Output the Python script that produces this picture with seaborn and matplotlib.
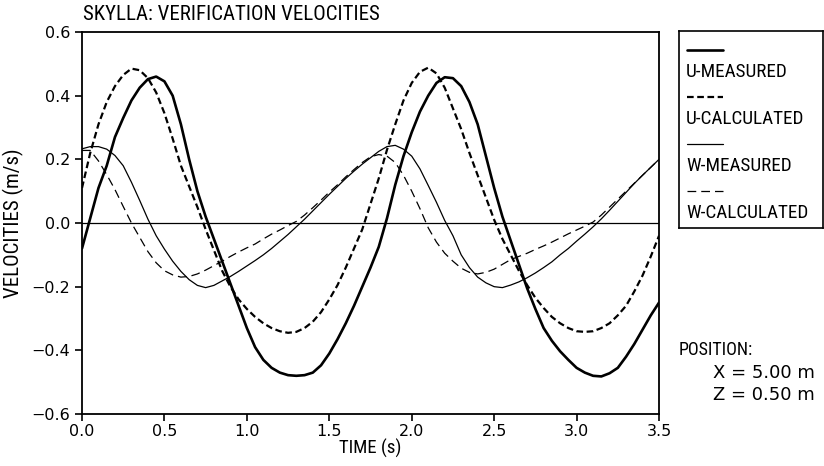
import numpy as np
import pandas as pd
import seaborn as sns
import matplotlib
import matplotlib.pyplot as plt
from matplotlib import font_manager

matplotlib.use("Agg")

# time axis (s), one reading every 0.05 s
time = np.round(np.arange(71) * 0.05, 2)

# velocities (m/s)
u_measured = [
    -0.08, 0.015, 0.11, 0.18, 0.27, 0.33, 0.385, 0.425, 0.452, 0.46,
    0.445, 0.40, 0.31, 0.20, 0.10, 0.02, -0.05, -0.12, -0.19, -0.26,
    -0.33, -0.39, -0.43, -0.455, -0.47, -0.478, -0.48, -0.478, -0.47, -0.447,
    -0.41, -0.365, -0.315, -0.26, -0.20, -0.14, -0.075, 0.015, 0.12, 0.21,
    0.285, 0.35, 0.40, 0.44, 0.458, 0.455, 0.43, 0.38, 0.31, 0.21,
    0.11, 0.02, -0.055, -0.13, -0.205, -0.27, -0.33, -0.37, -0.403, -0.43,
    -0.455, -0.47, -0.48, -0.482, -0.472, -0.455, -0.42, -0.38, -0.335, -0.29,
    -0.25,
]
u_calculated = [
    0.11, 0.22, 0.31, 0.38, 0.43, 0.465, 0.485, 0.48, 0.455, 0.41,
    0.345, 0.265, 0.18, 0.115, 0.05, -0.02, -0.085, -0.15, -0.20, -0.24,
    -0.27, -0.295, -0.315, -0.33, -0.34, -0.345, -0.342, -0.33, -0.31, -0.28,
    -0.24, -0.195, -0.14, -0.08, -0.02, 0.06, 0.14, 0.23, 0.31, 0.385,
    0.44, 0.475, 0.488, 0.47, 0.425, 0.36, 0.295, 0.22, 0.15, 0.08,
    0.01, -0.05, -0.10, -0.15, -0.195, -0.235, -0.267, -0.295, -0.315, -0.33,
    -0.34, -0.342, -0.34, -0.33, -0.315, -0.29, -0.26, -0.215, -0.165, -0.105,
    -0.04,
]
w_measured = [
    0.233, 0.24, 0.24, 0.232, 0.212, 0.18, 0.128, 0.071, 0.012, -0.04,
    -0.082, -0.12, -0.152, -0.178, -0.196, -0.203, -0.196, -0.182, -0.168, -0.152,
    -0.135, -0.118, -0.10, -0.08, -0.058, -0.036, -0.012, 0.012, 0.038, 0.064,
    0.09, 0.115, 0.14, 0.163, 0.185, 0.205, 0.225, 0.24, 0.244, 0.232,
    0.21, 0.17, 0.118, 0.065, 0.008, -0.04, -0.10, -0.14, -0.17, -0.188,
    -0.20, -0.203, -0.195, -0.185, -0.172, -0.157, -0.14, -0.122, -0.10, -0.08,
    -0.057, -0.035, -0.012, 0.013, 0.04, 0.068, 0.096, 0.124, 0.15, 0.175,
    0.2,
]
w_calculated = [
    0.228, 0.228, 0.195, 0.152, 0.105, 0.052, 0.0, -0.045, -0.09, -0.125,
    -0.15, -0.163, -0.17, -0.168, -0.16, -0.148, -0.134, -0.12, -0.105, -0.091,
    -0.078, -0.066, -0.05, -0.035, -0.022, -0.008, 0.005, 0.025, 0.048, 0.072,
    0.097, 0.12, 0.145, 0.168, 0.19, 0.208, 0.215, 0.21, 0.19, 0.15,
    0.10, 0.045, -0.015, -0.06, -0.095, -0.12, -0.142, -0.155, -0.16, -0.155,
    -0.145, -0.13, -0.115, -0.105, -0.095, -0.083, -0.072, -0.06, -0.047, -0.034,
    -0.022, -0.01, 0.003, 0.025, 0.05, 0.075, 0.1, 0.125, 0.15, 0.175,
    0.2,
]

series_names = ["U-MEASURED", "U-CALCULATED", "W-MEASURED", "W-CALCULATED"]
x_ticks = [0.0, 0.5, 1.0, 1.5, 2.0, 2.5, 3.0, 3.5]
y_ticks = [-0.6, -0.4, -0.2, 0.0, 0.2, 0.4, 0.6]

# line look for each series: (linewidth, dash pattern)
styles = {
    "U-MEASURED": (1.9, None),
    "U-CALCULATED": (1.6, (3, 1.6)),
    "W-MEASURED": (0.9, None),
    "W-CALCULATED": (0.9, (7, 4)),
}

sns.set_style("ticks")
# pick a narrow face for the plotter lettering
installed = {f.name for f in font_manager.fontManager.ttflist}
narrow = "DejaVu Sans"
for cand in ["Roboto Condensed", "Liberation Sans Narrow", "DejaVu Sans Condensed",
             "Liberation Sans"]:
    if cand in installed:
        narrow = cand
        break
plt.rcParams["font.family"] = ["DejaVu Sans"]
plt.rcParams["text.color"] = "black"
plt.rcParams["axes.labelcolor"] = "black"
plt.rcParams["xtick.color"] = "black"
plt.rcParams["ytick.color"] = "black"

df = pd.DataFrame({"time": time})
for name, vals in zip(series_names, [u_measured, u_calculated, w_measured, w_calculated]):
    df[name] = vals
long = df.melt(id_vars="time", var_name="series", value_name="velocity")

fig = plt.figure(figsize=(8.24, 4.66), dpi=100)
ax = fig.add_axes([0.0995, 0.1116, 0.7003, 0.8197])

ax.axhline(0, color="black", linewidth=0.9)
for name in series_names:
    lw, dash = styles[name]
    sub = long[long["series"] == name]
    sns.lineplot(data=sub, x="time", y="velocity", ax=ax, color="black", linewidth=lw)
    if dash is not None:
        ax.lines[-1].set_dashes(dash)

ax.set_xlim(0, 3.5)
ax.set_ylim(-0.6, 0.6)
ax.set_xticks(x_ticks)
ax.set_yticks(y_ticks)
ax.set_xticklabels([f"{v:.1f}" for v in x_ticks])
ax.set_yticklabels([f"{v:.1f}".replace("-", "\u2212") for v in y_ticks])
ax.tick_params(direction="out", length=5, width=1.2, labelsize=11.5, colors="black")
ax.tick_params(axis="x", pad=2)
for s in ax.spines.values():
    s.set_linewidth(1.3)
    s.set_color("black")
ax.set_xlabel("TIME (s)", fontfamily=narrow, fontsize=13.5, labelpad=0)
ax.set_ylabel("VELOCITIES (m/s)", fontfamily=narrow, fontsize=15, labelpad=5)

fig.text(0.1007, 0.968, "SKYLLA: VERIFICATION VELOCITIES", fontfamily=narrow,
         fontsize=15, va="center", ha="left")

# legend box: sample line above each label
lax = fig.add_axes([0.824, 0.5107, 0.1748, 0.4227])
lax.set_xlim(0, 1)
lax.set_ylim(0, 1)
lax.set_xticks([])
lax.set_yticks([])
for s in lax.spines.values():
    s.set_linewidth(1.2)
    s.set_color("black")
for i, name in enumerate(series_names):
    lw, dash = styles[name]
    y = 0.904 - i * 0.2386
    ln, = lax.plot([0.056, 0.306], [y, y], color="black", linewidth=lw)
    if dash is not None:
        ln.set_dashes(dash)
    lax.text(0.05, y - 0.112, name, fontfamily=narrow, fontsize=13.8,
             va="center", ha="left")

fig.text(0.824, 0.249, "POSITION:", fontfamily=narrow, fontsize=13, va="center", ha="left")
fig.text(0.865, 0.200, "X = 5.00 m", fontsize=13, va="center", ha="left")
fig.text(0.865, 0.152, "Z = 0.50 m", fontsize=13, va="center", ha="left")

fig.savefig("out.png", dpi=100)
